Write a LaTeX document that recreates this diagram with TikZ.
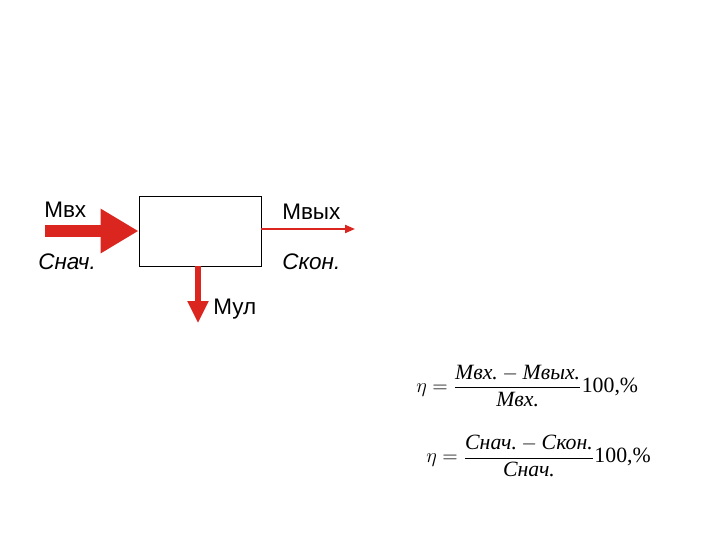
\documentclass[tikz,border=0pt]{standalone}
\usepackage{amsmath}
\usepackage{fontspec}
\setmainfont{Liberation Serif}
\newfontfamily\lblfont{Liberation Sans}
\usetikzlibrary{arrows.meta}
\definecolor{flowred}{RGB}{218,38,30}
\tikzset{
  lbl/.style={font=\lblfont\fontsize{16}{19}\selectfont,anchor=base west,inner sep=0pt},
  frm/.style={font=\fontsize{15.5}{19}\selectfont,anchor=west,inner sep=0pt}
}
\begin{document}
\begin{tikzpicture}[x=0.025cm,y=-0.025cm]
  \useasboundingbox[fill=white] (0,0) rectangle (720,540);
  % block
  \node[draw,line width=0.6pt,minimum width=3.05cm,minimum height=1.75cm,inner sep=0pt] (blk) at (200,231) {};
  \coordinate (inL) at (45,231);
  \coordinate (outR) at (355,229);
  \coordinate (lossB) at (198,323);
  % flows
  \draw[flowred,line width=0.3cm,-{Triangle[length=0.95cm,width=1.05cm]}] (inL) -- (blk.west);
  \draw[flowred,line width=0.05cm,-{Triangle[length=0.25cm,width=0.2cm]}] (blk.east |- outR) -- (outR);
  \draw[flowred,line width=0.13cm,-{Triangle[length=0.55cm,width=0.5cm]}] (blk.south -| lossB) -- (lossB);
  % labels
  \node[lbl] (min) at (44,217) {Мвх};
  \node[lbl] (cin) at (38,269) {\itshape Снач.};
  \node[lbl] (mout) at (282,219) {Мвых};
  \node[lbl] (cout) at (282,269) {\itshape Скон.};
  \node[lbl] (mloss) at (213,314) {Мул};
  % efficiency
  \node[frm] (eta1) at (416,386) {$\eta=\dfrac{\textit{Мвх.}-\textit{Мвых.}}{\textit{Мвх.}}\text{100,\%}$};
  \node[frm] (eta2) at (426,456) {$\eta=\dfrac{\textit{Снач.}-\textit{Скон.}}{\textit{Снач.}}\text{100,\%}$};
\end{tikzpicture}
\end{document}
